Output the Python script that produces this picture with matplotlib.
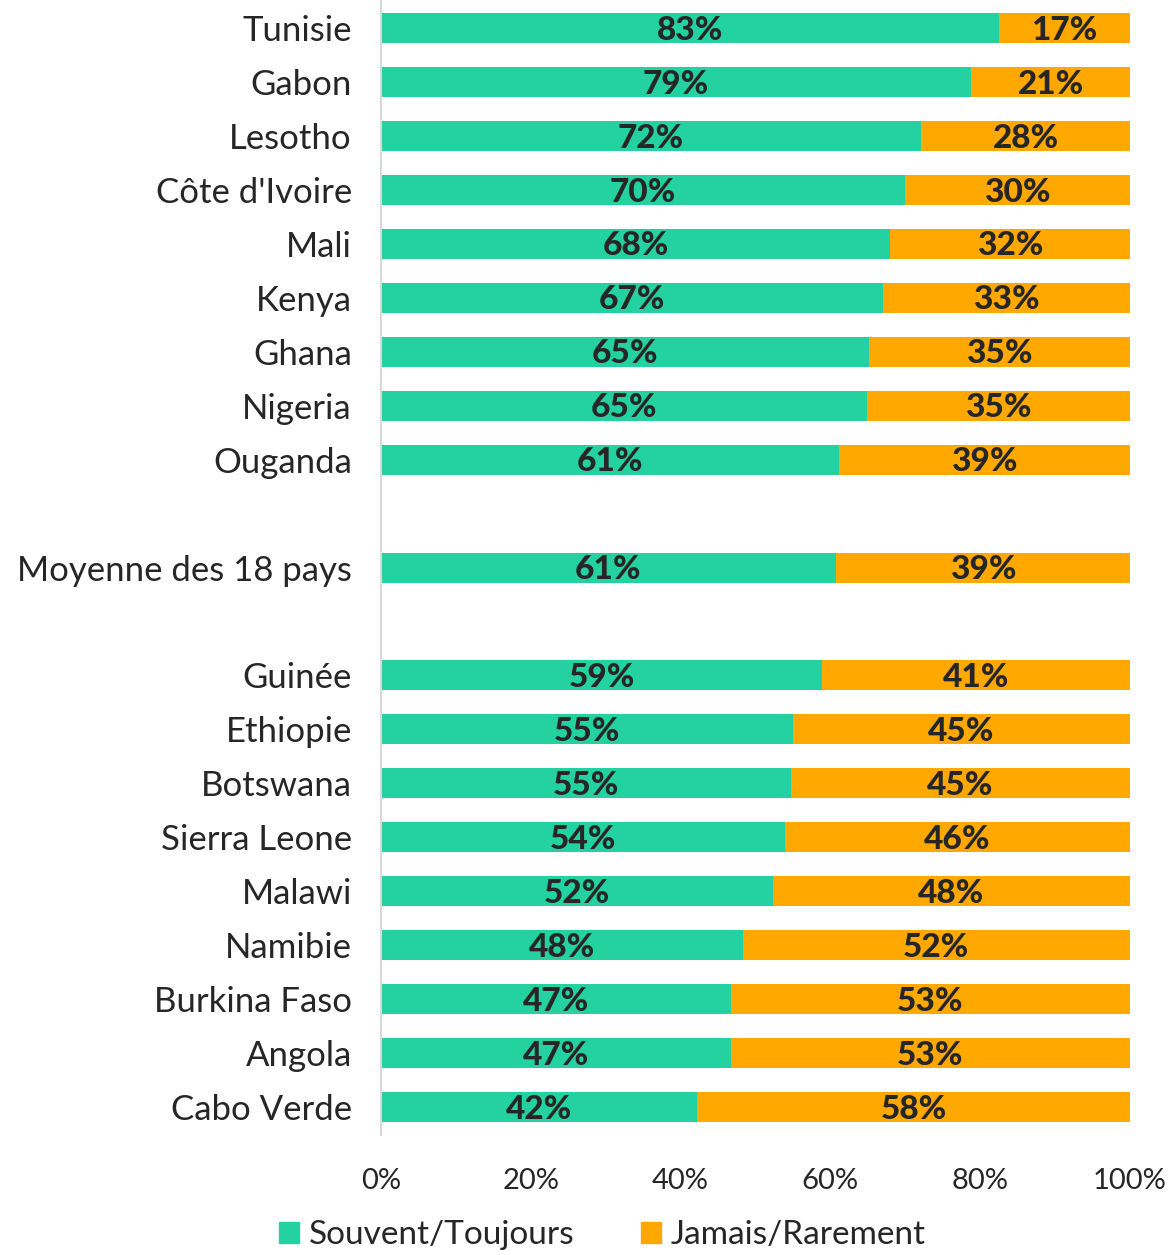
import numpy as np
import matplotlib
matplotlib.use("Agg")
import matplotlib.pyplot as plt
from matplotlib.patches import Patch

plt.rcParams['font.family'] = ['Lato', 'DejaVu Sans']

countries = ["Tunisie", "Gabon", "Lesotho", "Côte d'Ivoire", "Mali", "Kenya",
             "Ghana", "Nigeria", "Ouganda", "Moyenne des 18 pays",
             "Guinée", "Ethiopie", "Botswana", "Sierra Leone", "Malawi",
             "Namibie", "Burkina Faso", "Angola", "Cabo Verde"]
# share "Souvent/Toujours" (unrounded estimates)
souvent = [82.5, 78.8, 72.1, 70.0, 68.0, 67.0, 65.2, 64.9, 61.1, 60.7,
           58.9, 55.0, 54.7, 53.9, 52.3, 48.3, 46.7, 46.7, 42.2]
souvent_lbl = [83, 79, 72, 70, 68, 67, 65, 65, 61, 61,
               59, 55, 55, 54, 52, 48, 47, 47, 42]
jamais_lbl = [17, 21, 28, 30, 32, 33, 35, 35, 39, 39,
              41, 45, 45, 46, 48, 52, 53, 53, 58]

green = "#24D1A0"
orange = "#FFA800"
txt = "#262626"

# rows: 9 countries, gap, average, gap, 9 countries
ypos = list(range(0, 9)) + [10] + list(range(12, 21))
souvent = np.array(souvent)
jamais = 100 - souvent

fig = plt.figure(figsize=(11.74, 12.55), dpi=100)
ax = fig.add_axes([0.3245, 0.0956, 0.638, 0.9044])

h = 0.556
ax.barh(ypos, souvent, height=h, color=green, label="Souvent/Toujours")
ax.barh(ypos, jamais, left=souvent, height=h, color=orange, label="Jamais/Rarement")

for y, s, j, ls, lj in zip(ypos, souvent, jamais, souvent_lbl, jamais_lbl):
    ax.text(s / 2, y + 0.04, f"{ls}%", ha="center", va="center",
            fontsize=24, fontweight="black", color=txt)
    ax.text(s + j / 2, y + 0.04, f"{lj}%", ha="center", va="center",
            fontsize=24, fontweight="black", color=txt)

ax.set_xlim(0, 100)
ax.set_ylim(20.52, -0.52)
ax.set_yticks(ypos)
ax.set_yticklabels(countries, fontsize=25, color=txt)
ax.set_xticks(range(0, 101, 20))
ax.set_xticklabels([f"{v}%" for v in range(0, 101, 20)], fontsize=21, color=txt)
ax.tick_params(axis="both", length=0)
ax.tick_params(axis="y", pad=21)
ax.tick_params(axis="x", pad=24)
for side in ["top", "right", "bottom"]:
    ax.spines[side].set_visible(False)
ax.spines["left"].set_color("#D9D9D9")
ax.spines["left"].set_linewidth(1.5)

handles = [Patch(color=green), Patch(color=orange)]
fig.legend(handles, ["Souvent/Toujours", "Jamais/Rarement"],
           loc="lower center", bbox_to_anchor=(0.513, -0.02), ncol=2,
           frameon=False, handlelength=0.6, handleheight=0.6,
           handletextpad=0.3, columnspacing=2.0, labelcolor=txt,
           prop={"size": 24})

fig.savefig("out.png", dpi=100)
